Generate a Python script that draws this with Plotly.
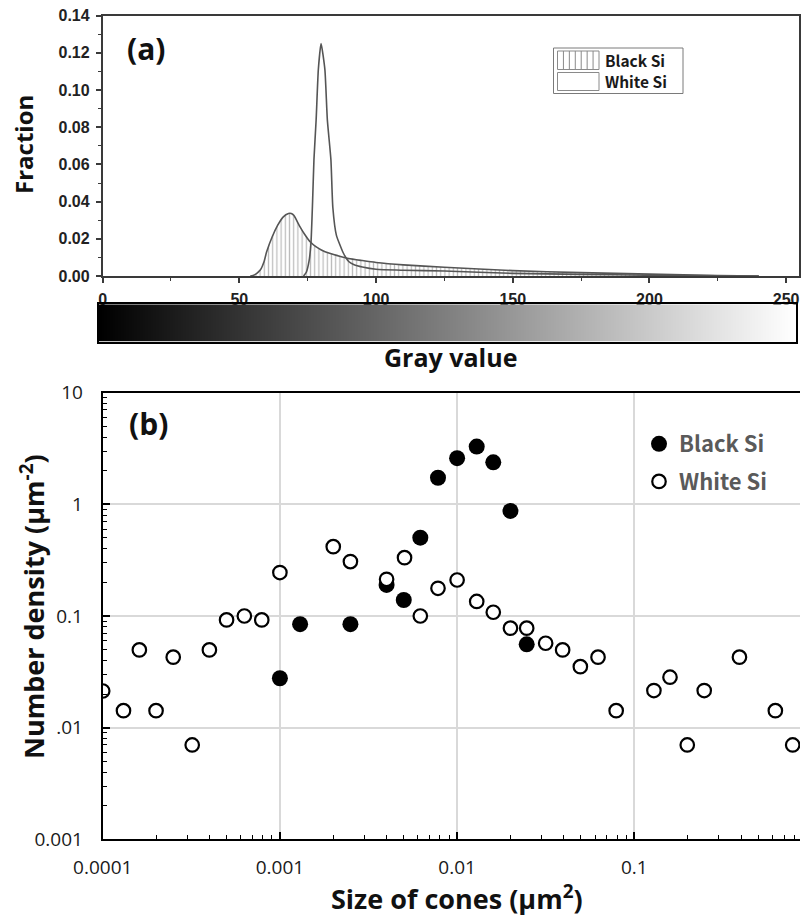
import plotly.graph_objects as go

# ---------------- Panel (a): gray-value histograms ----------------
black_gray = [54, 55, 56, 57, 58, 59, 60, 62, 64, 66, 68, 69, 70, 72, 74, 76, 78, 80, 83, 87, 90, 95,
              100, 110, 125, 150, 175, 200, 225, 240]
black_frac = [0.0, 0.0003, 0.001, 0.0022, 0.004, 0.0075, 0.013, 0.021, 0.0272, 0.0317, 0.0336, 0.0336,
              0.0325, 0.027, 0.0222, 0.0183, 0.0158, 0.014, 0.0122, 0.0105, 0.0094, 0.0083,
              0.0073, 0.006, 0.0047, 0.0029, 0.0018, 0.001, 0.0003, 0.0]

white_gray = [73.5, 74.5, 75.5, 76.2, 76.8, 77.3, 78.1, 78.9, 79.9, 81.3, 82.2, 83.5, 84.2, 85.5, 88, 90,
              92, 95, 100, 110, 125, 150, 175, 200, 225, 240]
white_frac = [0.0, 0.002, 0.008, 0.0176, 0.04, 0.0626, 0.084, 0.111, 0.125, 0.111, 0.084, 0.0626, 0.037,
              0.022, 0.0125, 0.0078, 0.006, 0.0048, 0.0036, 0.0031, 0.0027, 0.0014, 0.0009, 0.0004,
              0.0001, 0.0]

gray_levels = list(range(256))
gray_ticks = [0, 50, 100, 150, 200, 250]
frac_ticks = [0.00, 0.02, 0.04, 0.06, 0.08, 0.10, 0.12, 0.14]

# ---------------- Panel (b): number density ----------------
black_size = [1.0e-3, 1.3e-3, 2.5e-3, 4.0e-3, 5.0e-3, 6.2e-3, 7.8e-3, 1.0e-2, 1.29e-2, 1.6e-2, 2.0e-2, 2.47e-2]
black_density = [0.0277, 0.0845, 0.0845, 0.19, 0.139, 0.503, 1.73, 2.59, 3.29, 2.38, 0.873, 0.0558]

white_size = [1.0e-4, 1.31e-4, 1.61e-4, 2.0e-4, 2.5e-4, 3.2e-4, 4.0e-4, 5.0e-4, 6.3e-4, 7.9e-4,
              1.0e-3, 2.0e-3, 2.5e-3, 4.0e-3, 5.05e-3, 6.2e-3, 7.8e-3, 1.0e-2, 1.29e-2, 1.6e-2,
              2.0e-2, 2.47e-2, 3.16e-2, 3.94e-2, 4.96e-2, 6.24e-2, 7.9e-2, 0.129, 0.159, 0.199,
              0.248, 0.392, 0.625, 0.783]
white_density = [0.0213, 0.0142, 0.0497, 0.0142, 0.0428, 0.0070, 0.0497, 0.0923, 0.100, 0.0923,
                 0.245, 0.418, 0.307, 0.213, 0.333, 0.100, 0.177, 0.210, 0.135, 0.108,
                 0.0778, 0.0778, 0.057, 0.0497, 0.0352, 0.0428, 0.0142, 0.0215, 0.0283, 0.0070,
                 0.0215, 0.0428, 0.0142, 0.0070]

x_tickvals = [1e-4, 1e-3, 1e-2, 1e-1]
x_ticktext = ["0.0001", "0.001", "0.01", "0.1"]
y_tickvals = [1e-3, 1e-2, 1e-1, 1, 10]
y_ticktext = ["0.001", ".01", "0.1", "1", "10"]

# minor log ticks (2..9 of each decade)
x_minor = [k * 10.0 ** d for d in range(-4, 0) for k in range(2, 10)]
y_minor = [k * 10.0 ** d for d in range(-3, 1) for k in range(2, 10)]

W, H = 801, 916
def px(x): return x / W
def py(y): return 1 - y / H

TITLE_FONT = "Open Sans"
fig = go.Figure()

# (a) traces
fig.add_trace(go.Scatter(
    x=black_gray, y=black_frac, mode="lines", name="Black Si",
    line=dict(color="#555555", width=1.6, shape="spline", smoothing=0.5),
    fill="tozeroy", fillcolor="rgba(255,255,255,0)",
    fillpattern=dict(shape="|", fgcolor="#7a7a7a", bgcolor="rgba(255,255,255,0)", size=4.2, solidity=0.3),
    xaxis="x", yaxis="y", showlegend=False, hoverinfo="skip"))
fig.add_trace(go.Scatter(
    x=white_gray, y=white_frac, mode="lines", name="White Si",
    line=dict(color="#555555", width=1.6, shape="spline", smoothing=0.5),
    xaxis="x", yaxis="y", showlegend=False, hoverinfo="skip"))

# gray-scale bar
fig.add_trace(go.Heatmap(
    z=[gray_levels], x=gray_levels, y=[0],
    colorscale=[[0, "#000000"], [1, "#ffffff"]], showscale=False,
    xaxis="x3", yaxis="y3", hoverinfo="skip"))

# (b) traces
fig.add_trace(go.Scatter(
    x=black_size, y=black_density, mode="markers", name="<b>Black Si</b>",
    marker=dict(symbol="circle", size=16, color="#000000", line=dict(width=0)),
    xaxis="x2", yaxis="y2", legendgroup="b"))
fig.add_trace(go.Scatter(
    x=white_size, y=white_density, mode="markers", name="<b>White Si</b>",
    marker=dict(symbol="circle", size=13.5, color="#ffffff", line=dict(width=2.2, color="#000000")),
    xaxis="x2", yaxis="y2", legendgroup="w"))

axis_a = dict(showline=True, linecolor="#3a3a3a", linewidth=1.5, mirror=True, automargin=False,
              showgrid=False, zeroline=False, ticks="outside", ticklen=5, tickwidth=1.5,
              tickcolor="#3a3a3a",
              tickfont=dict(family="Liberation Sans", size=16, color="#222222", weight="bold"))

fig.update_layout(
    width=W, height=H, autosize=False,
    margin=dict(l=0, r=0, t=0, b=0, autoexpand=False),
    paper_bgcolor="white", plot_bgcolor="white",
    xaxis=dict(axis_a, domain=[px(102.6), px(799)], range=[0, 254.7], anchor="y",
               tickvals=gray_ticks, ticklabelstandoff=3,
               minor=dict(ticks="outside", ticklen=3, tickwidth=1.2, dtick=25, tickcolor="#3a3a3a")),
    yaxis=dict(axis_a, domain=[py(276), py(15.7)], range=[0, 0.14], anchor="x",
               tickvals=frac_ticks, tickformat=".2f", ticklabelstandoff=3,
               minor=dict(ticks="outside", ticklen=3, tickwidth=1.2, dtick=0.01, tickcolor="#3a3a3a")),
    xaxis3=dict(domain=[px(99), px(796)], range=[-0.5, 255.5], anchor="y3", automargin=False,
                showline=True, mirror=True, linecolor="#000000", linewidth=2,
                showticklabels=False, ticks="", showgrid=False, zeroline=False),
    yaxis3=dict(domain=[py(341.7), py(304.3)], range=[-0.5, 0.5], anchor="x3", automargin=False,
                showline=True, mirror=True, linecolor="#000000", linewidth=2,
                showticklabels=False, ticks="", showgrid=False, zeroline=False),
    xaxis2=dict(type="log", domain=[px(102.7), px(800)], range=[-4, -0.065], anchor="y2",
                automargin=False,
                showline=True, linecolor="#000000", linewidth=2, mirror=True,
                showgrid=True, gridcolor="#d9d9d9", gridwidth=1.5, zeroline=False,
                ticks="inside", ticklen=7, tickwidth=1.5, tickcolor="#000000",
                tickvals=x_tickvals, ticktext=x_ticktext, ticklabelstandoff=10,
                tickfont=dict(family=TITLE_FONT, size=19, color="#1a1a1a"),
                minor=dict(ticks="inside", ticklen=4, tickwidth=1.2, tickcolor="#000000",
                           tickmode="array", tickvals=x_minor, showgrid=False)),
    yaxis2=dict(type="log", domain=[py(839.3), py(392.7)], range=[-3, 1], anchor="x2",
                automargin=False,
                showline=True, linecolor="#000000", linewidth=2, mirror=False,
                showgrid=True, gridcolor="#d9d9d9", gridwidth=1.5, zeroline=False,
                ticks="inside", ticklen=7, tickwidth=1.5, tickcolor="#000000",
                tickvals=y_tickvals, ticktext=y_ticktext, ticklabelstandoff=14,
                tickfont=dict(family=TITLE_FONT, size=19, color="#1a1a1a"),
                minor=dict(ticks="inside", ticklen=4, tickwidth=1.2, tickcolor="#000000",
                           tickmode="array", tickvals=y_minor, showgrid=False)),
    legend=dict(x=px(639), y=py(423), xanchor="left", yanchor="top",
                bgcolor="rgba(0,0,0,0)", borderwidth=0, tracegroupgap=6, itemwidth=30,
                font=dict(family="Noto Sans CJK SC", size=22, color="#5a5a5a")),
    showlegend=True,
)

# annotations: labels and titles
ann = [
    dict(text="<b>(a)</b>", x=px(146), y=py(48), size=30),
    dict(text="<b>(b)</b>", x=px(148), y=py(423), size=30),
    dict(text="<b>Fraction</b>", x=px(23), y=py(145), size=24, angle=-90),
    dict(text="<b>Gray value</b>", x=px(450), y=py(357), size=25),
    dict(text="<b>Number density (μm<sup>-2</sup>)</b>", x=px(32), y=py(607), size=27, angle=-90),
    dict(text="<b>Size of cones (μm<sup>2</sup>)</b>", x=px(457), y=py(897), size=27),
]
for a in ann:
    fig.add_annotation(text=a["text"], x=a["x"], y=a["y"], xref="paper", yref="paper",
                       xanchor="center", yanchor="middle", showarrow=False,
                       textangle=a.get("angle", 0),
                       font=dict(family=TITLE_FONT, size=a["size"], color="#111111"))

# legend of panel (a)
fig.add_shape(type="rect", xref="paper", yref="paper", x0=px(553.5), x1=px(683), y0=py(93.5), y1=py(48),
              line=dict(color="#7a7a7a", width=1), fillcolor="white")
fig.add_shape(type="rect", xref="paper", yref="paper", x0=px(557.5), x1=px(599), y0=py(69.5), y1=py(51),
              line=dict(color="#8a8a8a", width=1), fillcolor="white")
fig.add_shape(type="rect", xref="paper", yref="paper", x0=px(557.5), x1=px(599), y0=py(90.5), y1=py(72.5),
              line=dict(color="#8a8a8a", width=1), fillcolor="white")
for i in range(1, 7):
    xx = 557.5 + i * (599 - 557.5) / 7
    fig.add_shape(type="line", xref="paper", yref="paper", x0=px(xx), x1=px(xx), y0=py(69.5), y1=py(51),
                  line=dict(color="#8a8a8a", width=1))
for txt, yc in [("Black Si", 60), ("White Si", 81.5)]:
    fig.add_annotation(text="<b>" + txt + "</b>", x=px(603), y=py(yc), xref="paper", yref="paper",
                       xanchor="left", yanchor="middle", showarrow=False,
                       font=dict(family="Noto Sans CJK SC", size=15.5, color="#1a1a1a"))

fig.write_html(
    "out.html",
    config={"displayModeBar": False},
    post_script="document.body.style.margin='0';document.body.style.padding='0';"
                "document.documentElement.style.overflow='hidden';",
)
